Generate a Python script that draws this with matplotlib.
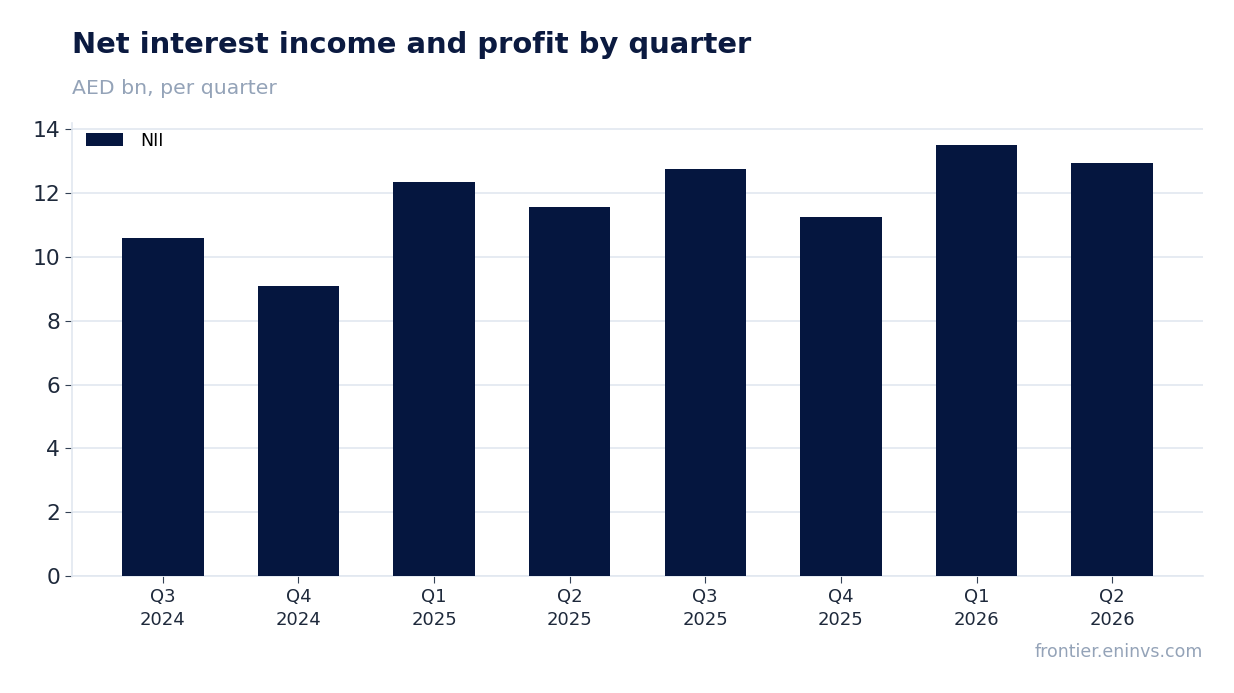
import matplotlib.pyplot as plt

quarters = ["Q3\n2024", "Q4\n2024", "Q1\n2025", "Q2\n2025",
            "Q3\n2025", "Q4\n2025", "Q1\n2026", "Q2\n2026"]
nii = [10.61, 9.10, 12.34, 11.56, 12.75, 11.24, 13.50, 12.96]
yticks = [0, 2, 4, 6, 8, 10, 12, 14]

navy = "#05163f"
grid_col = "#e2e8f0"
muted = "#94a3b8"

fig = plt.figure(figsize=(12.34, 6.93), dpi=100)
ax = fig.add_axes([72 / 1234, 1 - 576 / 693, (1203 - 72) / 1234, (576 - 123) / 693])

x = range(len(quarters))
ax.bar(x, nii, width=0.6, color=navy, label="NII", zorder=3)

ax.set_xlim(-0.67, len(quarters) - 1 + 0.67)
ax.set_ylim(0, 14.2)
ax.set_yticks(yticks)
ax.set_xticks(list(x))
ax.set_xticklabels(quarters, fontsize=13, color="#1e293b", linespacing=1.3)
ax.tick_params(axis="y", labelsize=15.7, colors="#1e293b", length=5, color="#334155")
ax.tick_params(axis="x", length=5, color="#334155", pad=4)

ax.grid(axis="y", color=grid_col, linewidth=1.2, zorder=0)
for s in ["top", "right"]:
    ax.spines[s].set_visible(False)
for s in ["left", "bottom"]:
    ax.spines[s].set_color(grid_col)
    ax.spines[s].set_linewidth(1.2)

ax.legend(loc="upper left", frameon=False, fontsize=12.5, handlelength=2.1,
          handleheight=0.8, handletextpad=1.0, borderaxespad=0.1,
          bbox_to_anchor=(0.005, 1.0))

fig.text(72 / 1234, 1 - 45 / 693, "Net interest income and profit by quarter",
         fontsize=20.9, fontweight="bold", color="#0b1a40", va="center", ha="left")
fig.text(72 / 1234, 1 - 88 / 693, "AED bn, per quarter",
         fontsize=14.7, color=muted, va="center", ha="left")
fig.text(1203 / 1234, 1 - 652 / 693, "frontier.eninvs.com",
         fontsize=12.5, color=muted, va="center", ha="right")

fig.savefig("out.png", dpi=100)
